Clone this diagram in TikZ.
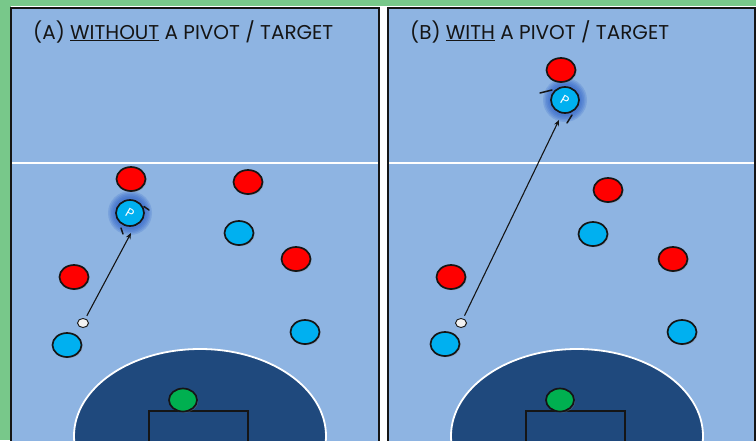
\documentclass[tikz,border=0pt]{standalone}
\usepackage{fontspec}
\setmainfont{Poppins}
\usetikzlibrary{shapes.geometric,shadows,arrows.meta,calc}
\definecolor{bggreen}{HTML}{78C88A}
\definecolor{court}{HTML}{8EB4E2}
\definecolor{boxblue}{HTML}{1F497D}
\definecolor{redp}{HTML}{FF0000}
\definecolor{bluep}{HTML}{00B0F0}
\definecolor{keeper}{HTML}{00B050}
\definecolor{glowblue}{HTML}{2A5FC8}
\definecolor{ink}{HTML}{151515}
\definecolor{ballc}{HTML}{F2F2F2}
\begin{document}
\begin{tikzpicture}[x=1pt,y=-1pt,
  player/.style={ellipse, draw=ink, line width=1.7pt, minimum width=29pt, minimum height=24pt, inner sep=0pt,
    drop shadow={shadow xshift=1.2pt, shadow yshift=-1.2pt, opacity=0.35}},
  redplayer/.style={player, fill=redp},
  blueplayer/.style={player, fill=bluep},
  keeperplayer/.style={player, fill=keeper, minimum width=28pt, minimum height=23pt},
  pivot/.style={ellipse, draw=ink, line width=1.7pt, fill=bluep, minimum width=28pt, minimum height=26pt, inner sep=0pt,
    text=white, font=\fontsize{13}{13}\selectfont},
  ballnode/.style={ellipse, draw=ink, line width=0.9pt, fill=ballc, minimum width=11pt, minimum height=9pt, inner sep=0pt,
    drop shadow={shadow xshift=0.8pt, shadow yshift=-0.8pt, opacity=0.3}},
  panel/.style={draw=ink, line width=2pt, fill=court},
  halfline/.style={draw=white, line width=1.6pt},
  boxarea/.style={draw=white, line width=1.8pt, fill=boxblue},
  goalbox/.style={draw=ink, line width=1.7pt, fill=boxblue},
  paneltitle/.style={anchor=base west, inner sep=0pt, text=ink, font=\fontsize{20}{24}\selectfont},
  passarrow/.style={draw=ink, line width=1.1pt, -{Stealth[length=6pt,width=5pt]}, shorten <=3pt},
  orient/.style={draw=ink, line width=1.5pt, line cap=round},
  glowring/.style={fill=glowblue, opacity=0.2},
]
\useasboundingbox (0,0) rectangle (756,440);
\fill[bggreen] (0,0) rectangle (756,440);
\fill[white] (11,6) rectangle (756,440);

% ---------------- Panel A ----------------
\draw[panel] (11,8) rectangle (379,446);
\begin{scope}
  \clip (12,9) rectangle (378,440);
  \draw[halfline] (12,163) -- (378,163);
  \draw[boxarea] (200,436) ellipse [x radius=126pt, y radius=87pt];
  \draw[goalbox] (149,411) rectangle (248,450);
\end{scope}
\node[paneltitle] (titleA) at (33,39) {(A) \underline{WITHOUT} A PIVOT / TARGET};
\foreach \r in {16,17.5,19,20.5,22} \fill[glowring] (130,213) circle [radius=\r pt];
\node[redplayer] (rA1) at (131,179) {};
\node[redplayer] (rA2) at (248,182) {};
\node[blueplayer] (bA2) at (239,233) {};
\node[redplayer] (rA3) at (296,259) {};
\node[blueplayer] (bA3) at (305,332) {};
\node[redplayer] (rA4) at (74,277) {};
\node[blueplayer] (bA4) at (67,345) {};
\node[ballnode] (ballA) at (83,323) {};
\node[keeperplayer] (kA) at (183,400) {};
\node[pivot] (pA) at (130,213) {\rotatebox{-30}{P}};
\coordinate (tipA) at (131,233);
\draw[orient] ($(pA)+(14,-6.5)$) -- ($(pA)+(19,-3)$);
\draw[orient] ($(pA)+(-9,15)$) -- ($(pA)+(-7,21)$);
\draw[passarrow] (ballA) -- (tipA);

% ---------------- Panel B ----------------
\draw[panel] (388,8) rectangle (755,446);
\begin{scope}
  \clip (389,9) rectangle (754,440);
  \draw[halfline] (389,163) -- (754,163);
  \draw[boxarea] (577,436) ellipse [x radius=126pt, y radius=87pt];
  \draw[goalbox] (526,411) rectangle (625,450);
\end{scope}
\node[paneltitle] (titleB) at (410,39) {(B) \underline{WITH} A PIVOT / TARGET};
\foreach \r in {16,17.5,19,20.5,22} \fill[glowring] (565,100) circle [radius=\r pt];
\node[redplayer] (rB1) at (561,70) {};
\node[redplayer] (rB2) at (608,190) {};
\node[blueplayer] (bB2) at (593,234) {};
\node[redplayer] (rB3) at (673,259) {};
\node[blueplayer] (bB3) at (682,332) {};
\node[redplayer] (rB4) at (451,277) {};
\node[blueplayer] (bB4) at (445,344) {};
\node[ballnode] (ballB) at (461,323) {};
\node[keeperplayer] (kB) at (560,400) {};
\node[pivot] (pB) at (565,100) {\rotatebox{-30}{P}};
\coordinate (tipB) at (559,120);
\draw[orient] ($(pB)+(-25,-7)$) -- ($(pB)+(-13,-10)$);
\draw[orient] ($(pB)+(2,23)$) -- ($(pB)+(7,15)$);
\draw[passarrow] (ballB) -- (tipB);
\end{tikzpicture}
\end{document}
